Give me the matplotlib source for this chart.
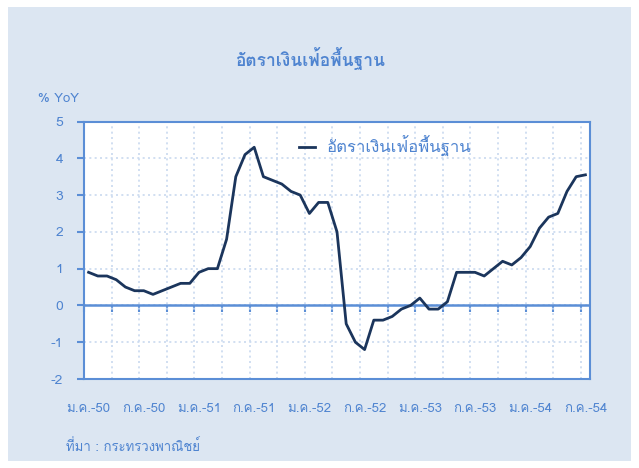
import numpy as np
import matplotlib
matplotlib.use('Agg')
import matplotlib.pyplot as plt
from matplotlib import font_manager
from matplotlib.ft2font import FT2Font
from matplotlib.patches import Rectangle

# find an installed font that has Thai glyphs
thai_font = None
for f in font_manager.fontManager.ttflist:
    try:
        if 0x0E2D in FT2Font(f.fname).get_charmap():
            thai_font = f.name
            break
    except Exception:
        pass
families = [thai_font, 'DejaVu Sans'] if thai_font else ['DejaVu Sans']
plt.rcParams['font.family'] = families
plt.rcParams['axes.unicode_minus'] = False

# core inflation, % YoY, monthly Jan 2007 - Jul 2011
core_inflation = [0.9, 0.8, 0.8, 0.7, 0.5, 0.4, 0.4, 0.3, 0.4, 0.5, 0.6, 0.6,
                  0.9, 1.0, 1.0, 1.8, 3.5, 4.1, 4.3, 3.5, 3.4, 3.3, 3.1, 3.0,
                  2.5, 2.8, 2.8, 2.0, -0.5, -1.0, -1.2, -0.4, -0.4, -0.3, -0.1, 0.0,
                  0.2, -0.1, -0.1, 0.1, 0.9, 0.9, 0.9, 0.8, 1.0, 1.2, 1.1, 1.3,
                  1.6, 2.1, 2.4, 2.5, 3.1, 3.5, 3.55]
month_labels = ['ม.ค.-50', 'ก.ค.-50', 'ม.ค.-51', 'ก.ค.-51', 'ม.ค.-52',
                'ก.ค.-52', 'ม.ค.-53', 'ก.ค.-53', 'ม.ค.-54', 'ก.ค.-54']
y_ticks = [-2, -1, 0, 1, 2, 3, 4, 5]

title = 'อัตราเงินเฟ้อพื้นฐาน'
series_name = 'อัตราเงินเฟ้อพื้นฐาน'
source = 'ที่มา : กระทรวงพาณิชย์'

bg = '#DCE6F2'
blue = '#5B8ED6'
text_blue = '#4F84D0'
grid_blue = '#C9D9EF'
navy = '#1B355C'

n = len(core_inflation)
x = np.arange(n)

fig = plt.figure(figsize=(6.39, 4.68), dpi=100)
fig.patch.set_facecolor('white')
fig.patches.append(Rectangle((8 / 639, 7 / 468), 623 / 639, 454 / 468,
                             transform=fig.transFigure, facecolor=bg,
                             edgecolor='none', zorder=-10))

ax = fig.add_axes([84 / 639, 1 - 379 / 468, 506 / 639, 257.5 / 468])
ax.set_facecolor('white')
ax.plot(x, core_inflation, color=navy, lw=2.0, label=series_name,
        solid_joinstyle='round', zorder=3)

ax.set_xlim(-0.5, n - 0.5)
ax.set_ylim(y_ticks[0], y_ticks[-1])

# category labels every 6 months, gridlines every 3 months (between categories)
ax.set_xticks(x[::6])
ax.set_xticklabels(month_labels)
boundaries = np.arange(-0.5, n - 0.5, 3)
ax.set_xticks(boundaries, minor=True)
ax.tick_params(axis='x', which='both', length=0, pad=17,
               labelsize=9.5, labelcolor=text_blue)
ax.set_yticks(y_ticks)
ax.tick_params(axis='y', length=5, width=1.5, color=blue, pad=10,
               labelsize=10, labelcolor=text_blue)

ax.grid(True, which='minor', axis='x', color=grid_blue, ls=(0, (1.2, 2)), lw=1.2)
ax.grid(True, which='major', axis='y', color=grid_blue, ls=(0, (1.2, 2)), lw=1.2)
ax.set_axisbelow(True)

for sp in ax.spines.values():
    sp.set_color(blue)
    sp.set_linewidth(1.5)

# horizontal axis crossing at zero with tick marks
ax.axhline(0, color=blue, lw=1.8, zorder=2)
zero_pos = (0 - y_ticks[0]) / (y_ticks[-1] - y_ticks[0])
zax = ax.secondary_xaxis(zero_pos)
zax.set_xticks(boundaries)
zax.tick_params(axis='x', direction='out', length=5, width=1.5, color=blue,
                labelbottom=False, labeltop=False)
for sp in zax.spines.values():
    sp.set_visible(False)

leg = ax.legend(loc='center left', bbox_to_anchor=(0.396, 0.905), frameon=False,
                handlelength=0.95, handletextpad=0.7, fontsize=12)
for t in leg.get_texts():
    t.set_color(text_blue)

fig.text(310 / 639, 1 - 59 / 468, title, ha='center', va='center',
         fontsize=12.5, fontweight='bold', color=text_blue)
fig.text(38 / 639, 1 - 99 / 468, '% YoY', ha='left', va='center',
         fontsize=9.5, color=text_blue)
fig.text(66 / 639, 1 - 447 / 468, source, ha='left', va='center',
         fontsize=9.5, color=text_blue)

fig.savefig('out.png', dpi=100, facecolor=fig.get_facecolor())
